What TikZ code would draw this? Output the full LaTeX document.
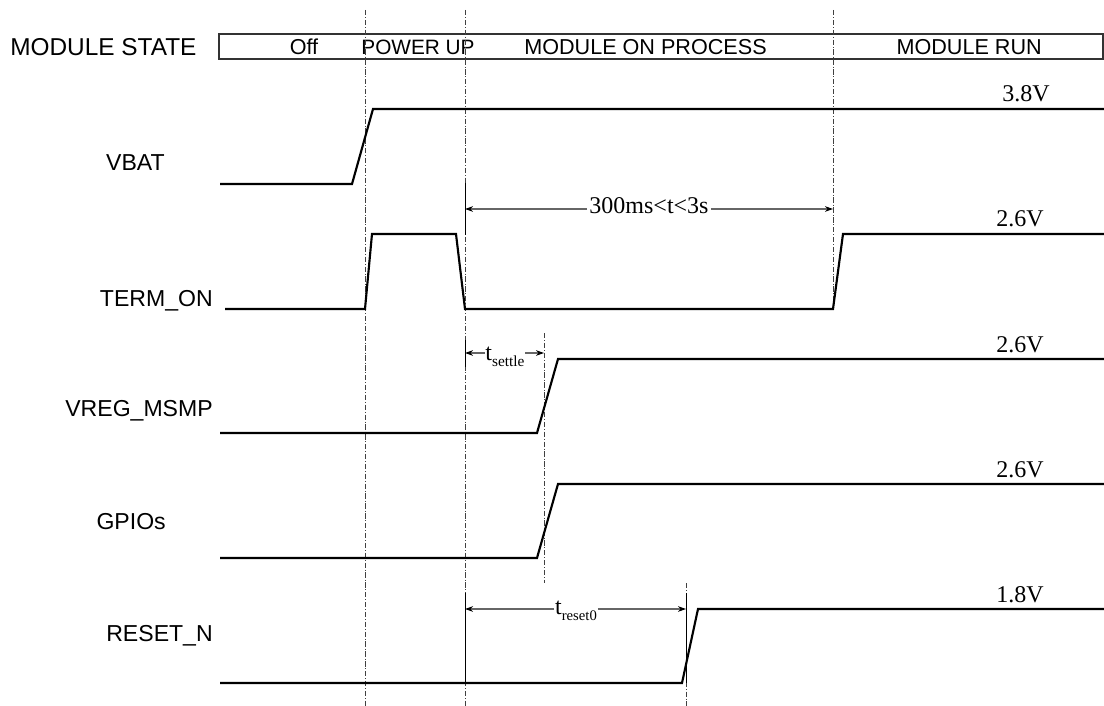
\documentclass[tikz,border=0pt]{standalone}
\usepackage{fontspec}
\setmainfont{Liberation Serif}
\newfontfamily\arialfam{Liberation Sans}
\usetikzlibrary{arrows.meta}
\begin{document}
\begin{tikzpicture}[x=0.75pt,y=-0.75pt,
  sig/.style={line width=1.6pt, line join=miter, black},
  guide/.style={line width=0.5pt, black!75, dash pattern=on 4pt off 1.4pt on 0.6pt off 1.4pt},
  ext/.style={line width=0.6pt, black},
  dimline/.style={line width=0.8pt, black!60, -{Stealth[length=6pt,width=4.2pt,black]}},
  lbl/.style={font=\arialfam\fontsize{17.3}{20}\selectfont, inner sep=0pt},
  st/.style={font=\arialfam\fontsize{16.2}{18}\selectfont, inner sep=0pt},
  volt/.style={font=\fontsize{18}{20}\selectfont, anchor=base, inner sep=0pt},
  dimtxt/.style={font=\fontsize{18}{20}\selectfont, anchor=base, inner sep=1.5pt, fill=white}]
\useasboundingbox (0,0) rectangle (1104,706);

% module state bar
\node[lbl, anchor=west, font=\arialfam\fontsize{18.3}{20}\selectfont] (msl) at (10,47) {MODULE STATE};
\draw[line width=0.9pt, black!80] (219,34) rectangle (1103,59);
\node[st] (s1) at (304,47) {Off};
\node[st, font=\arialfam\fontsize{15.6}{18}\selectfont] (s2) at (418,47) {POWER UP};
\node[st, anchor=east] (s3) at (767,47) {MODULE ON PROCESS};
\node[st, anchor=east] (s4) at (1042,47) {MODULE RUN};

% guide lines
\draw[guide] (365,10) -- (365,706);
\draw[guide] (465,10) -- (465,706);
\draw[guide] (833,10) -- (833,310);
\draw[guide] (544,333) -- (544,583);
\draw[guide] (686,583) -- (686,706);
\draw[ext] (465,183) -- (465,235);
\draw[ext] (465,340) -- (465,367);
\draw[ext] (465,593) -- (465,683);
\draw[ext] (686,593) -- (686,683);

% signal labels
\node[lbl, anchor=east] (l1) at (165,163) {VBAT};
\node[lbl, anchor=east] (l2) at (213,301) {TERM\_ON};
\node[lbl, anchor=east] (l3) at (213,411) {VREG\_MSMP};
\node[lbl, anchor=east] (l4) at (166,522) {GPIOs};
\node[lbl, anchor=east] (l5) at (213,636) {RESET\_N};

% waveforms
\draw[sig] (220,184) -- (352,184) -- (373,109) -- (1104,109);
\draw[sig] (225,309) -- (365,309) -- (372,234) -- (456,234) -- (465,309) -- (833,309) -- (843,234) -- (1104,234);
\draw[sig] (220,433) -- (537,433) -- (558,359) -- (1104,359);
\draw[sig] (220,558) -- (537,558) -- (558,484) -- (1104,484);
\draw[sig] (220,683) -- (682,683) -- (698,609) -- (1104,609);

% voltage labels
\node[volt] (v1) at (1026,102) {3.8V};
\node[volt] (v2) at (1020,227) {2.6V};
\node[volt] (v3) at (1020,352) {2.6V};
\node[volt] (v4) at (1020,477) {2.6V};
\node[volt] (v5) at (1020,602) {1.8V};

% dimension 300ms<t<3s
\coordinate (d1a) at (465,209);
\coordinate (d1b) at (833,209);
\node[dimtxt] (d1t) at (649,214) {300ms<t<3s};
\draw[dimline] (d1t.west |- d1a) -- (d1a);
\draw[dimline] (d1t.east |- d1b) -- (d1b);

% dimension t_settle
\coordinate (d2a) at (465,353);
\coordinate (d2b) at (544,353);
\node[dimtxt, inner sep=0.5pt] (d2t) at (505,360) {t\raisebox{-0.28em}{\fontsize{11.5}{12}\selectfont settle}};
\draw[dimline] (d2t.west |- d2a) -- (d2a);
\draw[dimline] (d2t.east |- d2b) -- (d2b);

% dimension t_reset0
\coordinate (d3a) at (465,609);
\coordinate (d3b) at (686,609);
\node[dimtxt, inner sep=0.5pt] (d3t) at (576,614) {t\raisebox{-0.28em}{\fontsize{11}{12}\selectfont reset0}};
\draw[dimline] (d3t.west |- d3a) -- (d3a);
\draw[dimline] (d3t.east |- d3b) -- (d3b);
\end{tikzpicture}
\end{document}
